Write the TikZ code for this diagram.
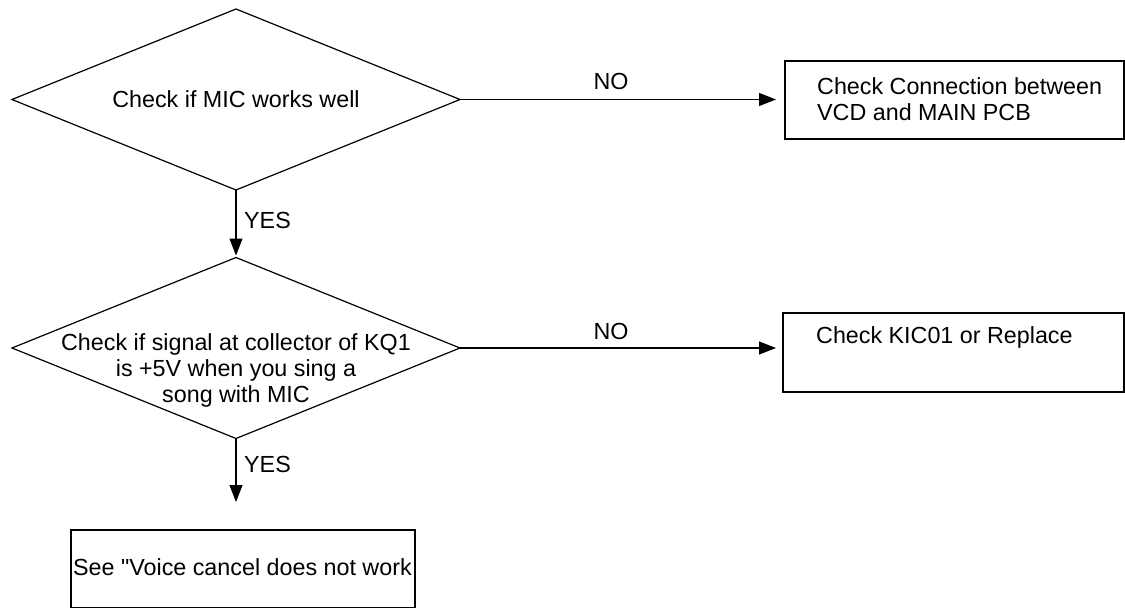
\documentclass[tikz,border=0pt]{standalone}
\usepackage{fontspec}
\setmainfont{Liberation Sans}
\usetikzlibrary{shapes.geometric,arrows.meta}
\begin{document}
\begin{tikzpicture}[x=1pt,y=-1pt,
  every node/.style={font=\fontsize{23.3}{26}\selectfont},
  dia/.style={diamond,draw,line width=1.2pt,minimum width=448pt,minimum height=181pt,inner sep=0pt,outer sep=0pt},
  boxx/.style={rectangle,draw,line width=1.2pt,inner sep=0pt,outer sep=0pt},
  txt/.style={align=center,inner sep=0pt},
  ltxt/.style={align=left,inner sep=0pt,anchor=west},
  arr/.style={line width=1.2pt,-{Triangle[length=17pt,width=13pt]}}]
\useasboundingbox (0,0) rectangle (1125,608);
% decisions
\node[dia] (d1) at (236,99.5) {};
\node[txt] (t1) at (d1.center) {Check if MIC works well};
\node[dia] (d2) at (236,348) {};
\node[txt] (t2) at (236,370) {Check if signal at collector of KQ1\\is +5V when you sing a\\song with MIC};
% boxes
\node[boxx,minimum width=339pt,minimum height=78pt] (b1) at (954.5,100) {};
\node[ltxt] (bt1) at (817,99) {Check Connection between\\VCD and MAIN PCB};
\node[boxx,minimum width=341pt,minimum height=79pt] (b2) at (953.5,352.5) {};
\node[ltxt] (bt2) at (816,337) {Check KIC01 or Replace};
\node[boxx,minimum width=344pt,minimum height=78pt] (b3) at (243,569) {};
\node[ltxt] (bt3) at (73,567) {See \textquotedbl Voice cancel does not work};
% connectors
\draw[arr,shorten >=9pt] (d1.east) -- (d1.east -| b1.west);
\draw[arr,shorten >=2pt] (d1.south) -- (d2.north);
\draw[arr,shorten >=7pt] (d2.east) -- (d2.east -| b2.west);
\draw[arr,shorten >=28pt] (d2.south) -- (d2.south |- b3.north);
% labels
\node[txt] (no1) at (611,81) {NO};
\node[txt] (no2) at (611,331) {NO};
\node[txt,anchor=west] (yes1) at (244,220) {YES};
\node[txt,anchor=west] (yes2) at (244,464) {YES};
\end{tikzpicture}
\end{document}
